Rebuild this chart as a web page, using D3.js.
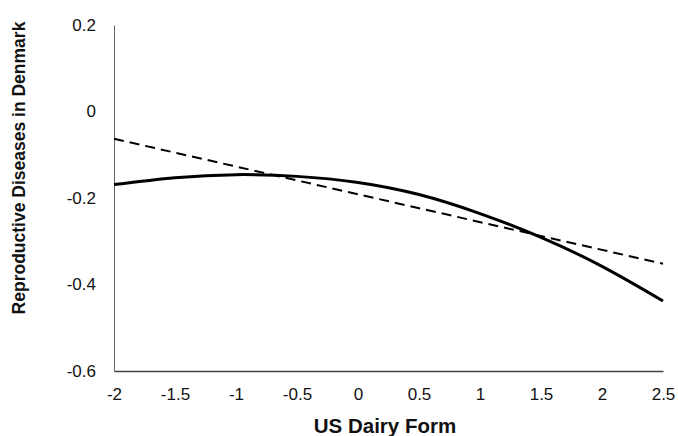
<!DOCTYPE html>
<html>
<head>
<meta charset="utf-8">
<script src="https://cdn.jsdelivr.net/npm/d3@7"></script>
<style>
  body { margin: 0; background: #fff; }
  text { font-family: "Liberation Sans", Arial, sans-serif; }
</style>
</head>
<body>
<svg id="chart" width="678" height="436"></svg>
<script>
// Data
const xTicks = [-2, -1.5, -1, -0.5, 0, 0.5, 1, 1.5, 2, 2.5];
const yTicks = [0.2, 0, -0.2, -0.4, -0.6];
const curveX = [-2, -1.5, -1, -0.5, 0, 0.5, 1, 1.5, 2, 2.5];
const curveY = [-0.169, -0.153, -0.146, -0.150, -0.164, -0.192, -0.236, -0.291, -0.358, -0.438];
const lineX = [-2, 2.5];
const lineY = [-0.063, -0.352];

const svg = d3.select("#chart");
const plotLeft = 114, plotRight = 663, plotTop = 25, plotBottom = 371;

const x = d3.scaleLinear().domain([-2, 2.5]).range([plotLeft, plotRight]);
const y = d3.scaleLinear().domain([-0.6, 0.2]).range([plotBottom, plotTop]);

// Axes (no tick marks, just labels)
const xAxis = svg.append("g")
    .attr("transform", `translate(0,${plotBottom})`)
    .call(d3.axisBottom(x).tickValues(xTicks).tickSize(0).tickPadding(17)
        .tickFormat(d => String(d)));
xAxis.select(".domain").attr("stroke", "#444").attr("stroke-width", 1.5);
xAxis.selectAll("text").attr("font-size", 17).attr("fill", "#111")
    .style("font-family", "Liberation Sans, Arial, sans-serif");

const yAxis = svg.append("g")
    .attr("transform", `translate(${plotLeft},0)`)
    .call(d3.axisLeft(y).tickValues(yTicks).tickSize(0).tickPadding(18)
        .tickFormat(d => String(d)));
yAxis.select(".domain").attr("stroke", "#666").attr("stroke-width", 1);
yAxis.selectAll("text").attr("font-size", 17).attr("fill", "#111")
    .style("font-family", "Liberation Sans, Arial, sans-serif");

// Series
const curveData = curveX.map((d, i) => [d, curveY[i]]);
const lineData = lineX.map((d, i) => [d, lineY[i]]);

const lineGen = d3.line().x(d => x(d[0])).y(d => y(d[1]));

svg.append("path")
    .datum(lineData)
    .attr("d", lineGen)
    .attr("fill", "none")
    .attr("stroke", "#000")
    .attr("stroke-width", 2)
    .attr("stroke-dasharray", "10,6");

svg.append("path")
    .datum(curveData)
    .attr("d", lineGen.curve(d3.curveNatural))
    .attr("fill", "none")
    .attr("stroke", "#000")
    .attr("stroke-width", 3);

// Axis titles
svg.append("text")
    .attr("x", 385)
    .attr("y", 433)
    .attr("text-anchor", "middle")
    .attr("font-size", 20.5)
    .attr("font-weight", "bold")
    .attr("fill", "#111")
    .text("US Dairy Form");

svg.append("text")
    .attr("transform", "translate(25,168) rotate(-90)")
    .attr("text-anchor", "middle")
    .attr("font-size", 17.5)
    .attr("font-weight", "bold")
    .attr("fill", "#111")
    .text("Reproductive Diseases in Denmark");
</script>
</body>
</html>
